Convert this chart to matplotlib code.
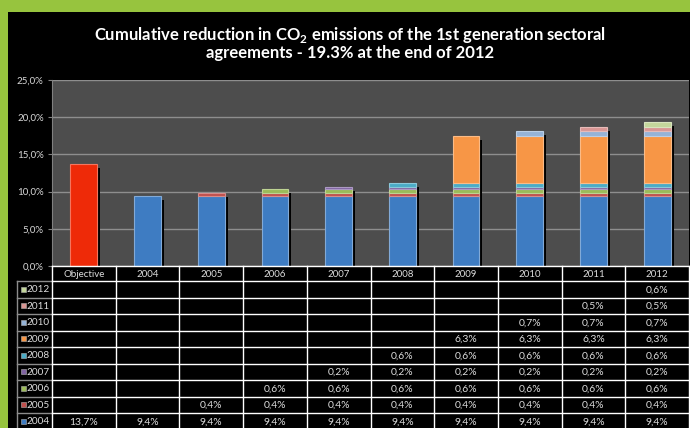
#!/usr/bin/env python3
"""
Cumulative reduction in CO2 emissions - stacked bars with data table below
"""

import matplotlib
matplotlib.use("Agg")
import matplotlib.pyplot as plt
from matplotlib.patches import Rectangle
import matplotlib.transforms as mtransforms
import matplotlib.colors as mcolors

# Data (percent)
categories = ["Objective", "2004", "2005", "2006", "2007", "2008", "2009", "2010", "2011", "2012"]
series_names = ["2004", "2005", "2006", "2007", "2008", "2009", "2010", "2011", "2012"]
series_values = {
    "2004": [13.7, 9.4, 9.4, 9.4, 9.4, 9.4, 9.4, 9.4, 9.4, 9.4],
    "2005": [None, None, 0.4, 0.4, 0.4, 0.4, 0.4, 0.4, 0.4, 0.4],
    "2006": [None, None, None, 0.6, 0.6, 0.6, 0.6, 0.6, 0.6, 0.6],
    "2007": [None, None, None, None, 0.2, 0.2, 0.2, 0.2, 0.2, 0.2],
    "2008": [None, None, None, None, None, 0.6, 0.6, 0.6, 0.6, 0.6],
    "2009": [None, None, None, None, None, None, 6.3, 6.3, 6.3, 6.3],
    "2010": [None, None, None, None, None, None, None, 0.7, 0.7, 0.7],
    "2011": [None, None, None, None, None, None, None, None, 0.5, 0.5],
    "2012": [None, None, None, None, None, None, None, None, None, 0.6],
}
series_colors = {
    "2004": "#3E7CC2",
    "2005": "#C0504D",
    "2006": "#9BBB59",
    "2007": "#8064A2",
    "2008": "#4BACC6",
    "2009": "#F79646",
    "2010": "#95B3D7",
    "2011": "#D99694",
    "2012": "#C3D69B",
}
objective_color = "#EE2A08"
yticks = [0, 5, 10, 15, 20, 25]

W, H = 690, 428
plt.rcParams["font.family"] = ["Lato", "DejaVu Sans"]
plt.rcParams["mathtext.fontset"] = "custom"
plt.rcParams["mathtext.rm"] = "Lato"
plt.rcParams["mathtext.bf"] = "Lato:bold"

fig = plt.figure(figsize=(W / 100, H / 100), dpi=100)
fig.patch.set_facecolor("#97C43E")

# black panel inside the green frame
fig.patches.append(Rectangle((8 / W, 0), 1, 1 - 12 / H, transform=fig.transFigure,
                             facecolor="black", edgecolor="none", zorder=-10))


def fx(px):
    return px / W


def fy(py):
    return 1 - py / H


def lighter(c, amt=0.35):
    r, g, b = mcolors.to_rgb(c)
    return (r + (1 - r) * amt, g + (1 - g) * amt, b + (1 - b) * amt)


# title
fig.text(fx(350), fy(35), r"Cumulative reduction in CO$_\mathbf{2}$ emissions of the 1st generation sectoral",
         ha="center", va="center", color="white", fontsize=12, fontweight="bold")
fig.text(fx(350), fy(53), "agreements - 19.3% at the end of 2012",
         ha="center", va="center", color="white", fontsize=12, fontweight="bold")

# chart area
left, right, top, bottom = 52, 689, 80, 266
ax = fig.add_axes([fx(left), fy(bottom), fx(right - left), (bottom - top) / H])
ax.set_facecolor("#4D4D4D")
ax.set_xlim(0, len(categories))
ax.set_ylim(0, 25)
ax.set_yticks(yticks)
ax.set_yticklabels([f"{t:.1f}%".replace(".", ",") for t in yticks], color="#D8D8D8", fontsize=7)
ax.set_xticks([])
ax.tick_params(axis="y", length=3, color="#808080", pad=3)
for s in ax.spines.values():
    s.set_visible(False)
ax.spines["left"].set_visible(True)
ax.spines["left"].set_color("#808080")
ax.grid(axis="y", color="#8E8E8E", linewidth=1)
ax.set_axisbelow(True)

bar_w = 0.42
shadow_tr = ax.transData + mtransforms.ScaledTranslation(3 / 100, -4 / 100, fig.dpi_scale_trans)
for i, cat in enumerate(categories):
    total = sum(v for v in (series_values[n][i] for n in series_names) if v is not None)
    # drop shadow behind the whole stack
    ax.bar(i + 0.5, total, bar_w, color="black", zorder=2, transform=shadow_tr)
    base = 0.0
    for name in series_names:
        v = series_values[name][i]
        if v is None:
            continue
        col = objective_color if cat == "Objective" else series_colors[name]
        ax.bar(i + 0.5, v, bar_w, bottom=base, color=col, edgecolor=lighter(col),
               linewidth=0.8, zorder=3)
        base += v

# data table
label_w = (left - 17) / ((right - left) / len(categories))
tax = fig.add_axes([fx(17), 0, fx(right - 17), (H - bottom) / H])
tax.set_xlim(-label_w, len(categories))
tax.set_ylim(H, bottom)
tax.axis("off")

header_h = 15
row_h = 16.5
row_top = bottom + header_h
rows = list(reversed(series_names))
txt_col = "#DCDCDC"
line_kw = dict(color="white", linewidth=1, zorder=2, clip_on=False)
gray_kw = dict(color="#8C8C8C", linewidth=1, zorder=1, clip_on=False)

# header row
for i, cat in enumerate(categories):
    tax.text(i + 0.5, bottom + header_h / 2 + 0.5, cat, ha="center", va="center",
             color=txt_col, fontsize=7)
tax.plot([0, len(categories)], [bottom, bottom], **line_kw)
for i in range(len(categories) + 1):
    tax.plot([i, i], [bottom, H + 5], **line_kw)

# body rows
for r, name in enumerate(rows):
    y0 = row_top + r * row_h
    yc = y0 + row_h / 2
    tax.plot([-label_w, 0], [y0, y0], **gray_kw)
    tax.plot([0, len(categories)], [y0, y0], **line_kw)
    tax.add_patch(Rectangle((-label_w + 0.06, yc - 2.5), 0.075, 5,
                            facecolor=series_colors[name], edgecolor="#B0B0B0", linewidth=0.4))
    tax.text(-label_w + 0.15, yc + 0.5, name, ha="left", va="center", color=txt_col, fontsize=7.2)
    for i, v in enumerate(series_values[name]):
        if v is None:
            continue
        tax.text(i + 0.5, yc + 0.5, f"{v:.1f}%".replace(".", ","), ha="center", va="center",
                 color=txt_col, fontsize=7.5)
tax.plot([-label_w, -label_w], [row_top, H + 5], **gray_kw)

fig.savefig("out.png", dpi=100, facecolor=fig.get_facecolor())
